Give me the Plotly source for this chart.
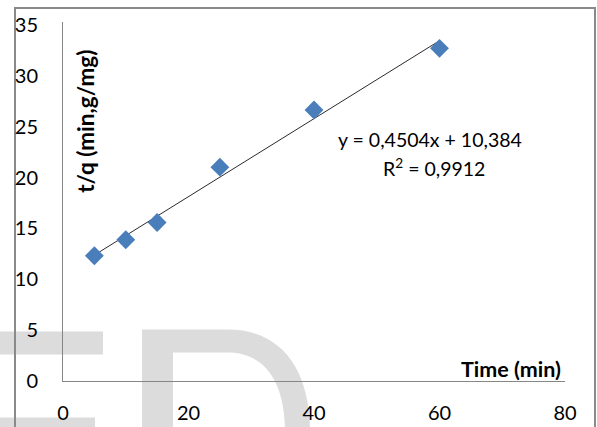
import numpy as np
import plotly.graph_objects as go

# Pseudo-second-order kinetics: t/q against contact time
time_min = [5, 10, 15, 25, 40, 60]
t_over_q = [12.32, 13.89, 15.59, 21.03, 26.65, 32.71]

x_ticks = [0, 20, 40, 60, 80]
y_ticks = [0, 5, 10, 15, 20, 25, 30, 35]

eq_text = "y = 0,4504x + 10,384"
r2_text = "R<sup>2</sup> = 0,9912"

# least-squares trendline through the measured points
slope, intercept = np.polyfit(time_min, t_over_q, 1)
fit_x = np.array([min(time_min), max(time_min)])
fit_y = slope * fit_x + intercept

W, H = 597, 427
L, R, T, B = 63, 32, 22, 45.5
PW, PH = W - L - R, H - T - B


def px(x):
    return (x - L) / PW


def py(y):
    return (H - B - y) / PH


def path(cmds):
    out = []
    for c in cmds:
        if isinstance(c, str):
            out.append(c)
        else:
            out.append(f"{px(c[0]):.5f},{py(c[1]):.5f}")
    return " ".join(out)


FONT = "Lato"
mark_gray = "#dcdcdc"

fig = go.Figure()

fig.add_trace(go.Scatter(
    x=fit_x, y=fit_y, mode="lines",
    line=dict(color="#2b2b2b", width=1),
    hoverinfo="skip", showlegend=False,
))
fig.add_trace(go.Scatter(
    x=time_min, y=t_over_q, mode="markers",
    marker=dict(symbol="diamond", size=14.5, color="#4a7ebb",
                line=dict(width=0)),
    showlegend=False,
))

shapes = [
    # faint "ED" letters behind the chart
    dict(type="rect", xref="paper", yref="paper", layer="below",
         x0=px(-20), x1=px(103), y0=py(332), y1=py(355),
         fillcolor=mark_gray, line=dict(width=0)),
    dict(type="rect", xref="paper", yref="paper", layer="below",
         x0=px(-20), x1=px(95), y0=py(418), y1=py(441),
         fillcolor=mark_gray, line=dict(width=0)),
    dict(type="path", xref="paper", yref="paper", layer="below",
         path=path(["M", (142, 330), "L", (228, 330),
                    "C", (283, 330), (310, 372), (310, 432),
                    "L", (310, 470), "L", (285, 470), "L", (285, 432),
                    "C", (285, 382), (264, 353), (228, 353),
                    "L", (173, 353), "L", (173, 470), "L", (142, 470), "Z"]),
         fillcolor=mark_gray, line=dict(width=0)),
    # chart frame
    dict(type="rect", xref="paper", yref="paper", layer="below",
         x0=px(15), x1=px(595), y0=py(8), y1=py(440),
         fillcolor="rgba(0,0,0,0)", line=dict(color="#8a8a8a", width=2)),
]

annotations = [
    dict(text="<b>Time (min)</b>", xref="paper", yref="paper",
         x=px(563), y=py(369), xanchor="right", yanchor="middle",
         showarrow=False, font=dict(family=FONT, size=21.5, color="#000")),
    dict(text="<b>t/q (min,g/mg)</b>", xref="paper", yref="paper",
         x=px(86), y=py(122), xanchor="center", yanchor="middle",
         textangle=-90, showarrow=False,
         font=dict(family=FONT, size=22.5, color="#000")),
    dict(text=eq_text, xref="paper", yref="paper",
         x=px(430), y=py(140), xanchor="center", yanchor="middle",
         showarrow=False, font=dict(family=FONT, size=19.5, color="#000")),
    dict(text=r2_text, xref="paper", yref="paper",
         x=px(434), y=py(168), xanchor="center", yanchor="middle",
         showarrow=False, font=dict(family=FONT, size=19.5, color="#000")),
]

fig.update_layout(
    width=W, height=H,
    margin=dict(l=L, r=R, t=T, b=B, pad=0, autoexpand=False),
    paper_bgcolor="white", plot_bgcolor="rgba(0,0,0,0)",
    font=dict(family=FONT, size=20, color="#000"),
    shapes=shapes, annotations=annotations,
    xaxis=dict(range=[0, 80], tickvals=x_ticks, showgrid=False,
               zeroline=False, showline=True, linecolor="#868686",
               linewidth=1, ticks="", ticklabelstandoff=14,
               automargin=False),
    yaxis=dict(range=[0, 35.3], tickvals=y_ticks, showgrid=False,
               zeroline=False, showline=True, linecolor="#868686",
               linewidth=1, ticks="", ticklabelstandoff=20,
               automargin=False),
)

fig.write_html("out.html")
